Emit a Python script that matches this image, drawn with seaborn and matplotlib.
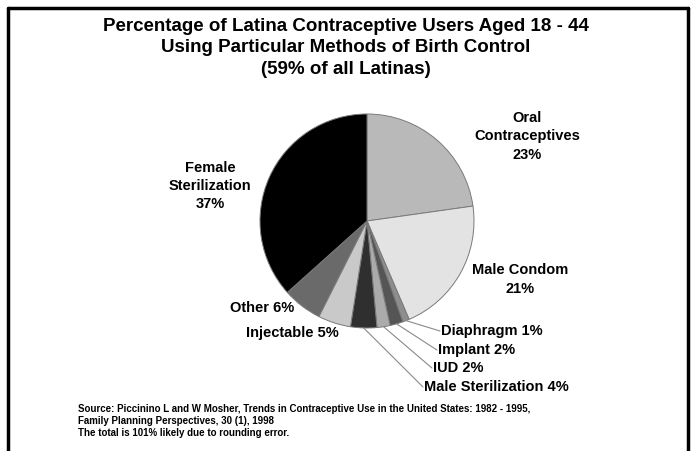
import matplotlib
matplotlib.use("Agg")
import matplotlib.pyplot as plt
import seaborn as sns
import numpy as np
from matplotlib.lines import Line2D

sns.set_theme(style="white")
plt.rcParams['font.family'] = ['Liberation Sans Narrow', 'Liberation Sans', 'DejaVu Sans']
plt.rcParams['text.color'] = 'black'

methods = ["Oral Contraceptives", "Male Condom", "Diaphragm", "Implant", "IUD",
           "Male Sterilization", "Injectable", "Other", "Female Sterilization"]
shares = [23, 21, 1, 2, 2, 4, 5, 6, 37]
colors = ["#b9b9b9", "#e3e3e3", "#8e8e8e", "#555555", "#ababab",
          "#2f2f2f", "#c9c9c9", "#6a6a6a", "#000000"]
labels = ["Oral\nContraceptives\n23%", "Male Condom\n21%", "Diaphragm 1%", "Implant 2%",
          "IUD 2%", "Male Sterilization 4%", "Injectable 5%", "Other 6%",
          "Female\nSterilization\n37%"]

title = ("Percentage of Latina Contraceptive Users Aged 18 - 44\n"
         "Using Particular Methods of Birth Control\n(59% of all Latinas)")
source = ("Source: Piccinino L and W Mosher, Trends in Contraceptive Use in the United States: 1982 - 1995,\n"
          "Family Planning Perspectives, 30 (1), 1998\n"
          "The total is 101% likely due to rounding error.")

W, H = 691, 451
fig = plt.figure(figsize=(W / 100, H / 100), dpi=100)
fig.patch.set_facecolor("white")

cx, cy, r = 367, 221, 107
ax = fig.add_axes([(cx - r) / W, (H - cy - r) / H, 2 * r / W, 2 * r / H])
wedges, _ = ax.pie(shares, colors=colors, startangle=90, counterclock=False,
                   wedgeprops=dict(edgecolor="#7a7a7a", linewidth=0.7))
ax.set_xlim(-1, 1)
ax.set_ylim(-1, 1)
ax.set_aspect("auto")
ax.axis("off")

# label placement (data coords, radius = 1)
centered = {0: (1.495, 0.79), 1: (1.43, -0.545), 8: (-1.467, 0.327),
            7: (-0.98, -0.81), 6: (-0.70, -1.05)}
for i, (x, y) in centered.items():
    ax.text(x, y, labels[i], ha="center", va="center", fontsize=10.5,
            fontweight="bold", color="black", linespacing=1.4)

leader = {2: (0.682, -1.028), 3: (0.654, -1.206), 4: (0.607, -1.374), 5: (0.523, -1.551)}
total = sum(shares)
cum = 0
mids = []
for s in shares:
    mids.append(90 - (cum + s / 2) / total * 360)
    cum += s
for i, (x, y) in leader.items():
    a = np.deg2rad(mids[i])
    ax.plot([np.cos(a), x], [np.sin(a), y], color="#8a8a8a", lw=0.8, clip_on=False)
    ax.text(x + 0.01, y, labels[i], ha="left", va="center", fontsize=10.5,
            fontweight="bold", color="black")

fig.text(0.5, 1 - 48 / H, title, ha="center", va="center", fontsize=13.5,
         fontweight="bold", linespacing=1.32, color="black")
fig.text(78 / W, 1 - 421 / H, source, ha="left", va="center", fontsize=7,
         fontweight="bold", linespacing=1.25, color="black")

# partial frame (top, left, right)
for xs, ys in [((8, 688), (8, 8)), ((8, 8), (8, H)), ((688, 688), (8, H))]:
    fig.add_artist(Line2D([x / W for x in xs], [1 - y / H for y in ys],
                          color="black", lw=2.5, transform=fig.transFigure))

fig.savefig("out.png", dpi=100, facecolor="white")
